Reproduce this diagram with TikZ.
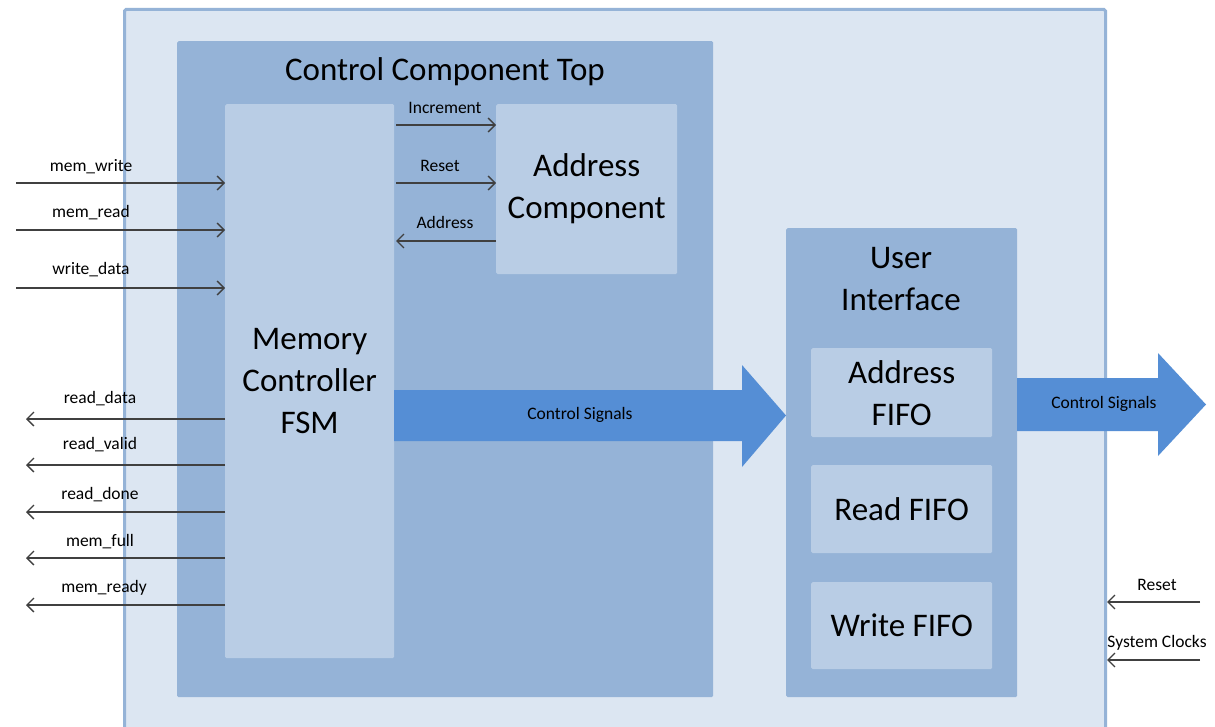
\documentclass[tikz,border=0pt]{standalone}
\usepackage{fontspec}
\setmainfont{Carlito}
\usetikzlibrary{arrows.meta}
\definecolor{outerfill}{HTML}{DCE6F2}
\definecolor{outerline}{HTML}{95B3D7}
\definecolor{midfill}{HTML}{95B3D7}
\definecolor{innerfill}{HTML}{B9CDE5}
\definecolor{bigarrow}{HTML}{558ED5}
\definecolor{wire}{HTML}{404040}
\tikzset{
  block/.style={anchor=north west, inner sep=0pt, draw=none, rounded corners=1.5pt},
  bigtxt/.style={font=\fontsize{33}{42}\selectfont, align=center, text=black},
  sig/.style={font=\fontsize{17.5}{20}\selectfont, text=black, inner sep=0pt},
  wirearrow/.style={draw=wire, line width=1.4pt, -{Straight Barb[length=7pt,width=14pt,line width=1.3pt]}},
  fatarrow/.style={fill=bigarrow, draw=none}
}
\begin{document}
\begin{tikzpicture}[x=1pt,y=-1pt]
\useasboundingbox (0,0) rectangle (1215,727);
\fill[white] (0,0) rectangle (1215,727);

% outer container, running off the bottom edge
\begin{scope}
\clip (0,0) rectangle (1215,727);
\node[block, fill=outerfill, draw=outerline, line width=3pt, minimum width=981pt, minimum height=740pt] (outer) at (123,8) {};
\end{scope}

% control component top
\node[block, fill=midfill, minimum width=536pt, minimum height=656pt] (cct) at (177,41) {};
\node[bigtxt, anchor=center] (ccttitle) at (445,72) {Control Component Top};

% memory controller FSM
\node[block, fill=innerfill, minimum width=169pt, minimum height=554pt] (mcf) at (225,104) {};
\node[bigtxt] (mcftxt) at (mcf.center) {Memory\\Controller\\FSM};

% address component
\node[block, fill=innerfill, minimum width=181pt, minimum height=170pt] (adc) at (496,104) {};
\node[bigtxt] (adctxt) at (adc.center) {Address\\Component};

% user interface
\node[block, fill=midfill, minimum width=231pt, minimum height=469pt] (ui) at (786,228) {};
\node[bigtxt] (uitxt) at (901,279) {User\\Interface};
\node[block, fill=innerfill, minimum width=181pt, minimum height=89pt] (afifo) at (811,348) {};
\node[bigtxt] (afifotxt) at (afifo.center) {Address\\FIFO};
\node[block, fill=innerfill, minimum width=181pt, minimum height=88pt] (rfifo) at (811,465) {};
\node[bigtxt] (rfifotxt) at (rfifo.center) {Read FIFO};
\node[block, fill=innerfill, minimum width=181pt, minimum height=87pt] (wfifo) at (811,582) {};
\node[bigtxt] (wfifotxt) at (wfifo.center) {Write FIFO};

% internal control signals arrow
\fill[fatarrow] (394,390) -- (742,390) -- (742,365) -- (786,415.5) -- (742,467) -- (742,441) -- (394,441) -- cycle;
\node[sig] (cs1) at (580,415) {Control Signals};

% outgoing control signals arrow
\fill[fatarrow] (1017,378) -- (1158,378) -- (1158,353) -- (1206,404.5) -- (1158,456) -- (1158,431) -- (1017,431) -- cycle;
\node[sig] (cs2) at (1104,404) {Control Signals};

% inputs to the FSM
\coordinate (iw) at (16,183);
\coordinate (ir) at (16,230);
\coordinate (id) at (16,288);
\draw[wirearrow] (iw) -- (iw -| mcf.west);
\draw[wirearrow] (ir) -- (ir -| mcf.west);
\draw[wirearrow] (id) -- (id -| mcf.west);
\node[sig] (lw) at (91,167) {mem\_write};
\node[sig] (lr) at (91,213) {mem\_read};
\node[sig] (ld) at (91,270) {write\_data};

% outputs from the FSM
\coordinate (o1) at (26,419);
\coordinate (o2) at (26,465);
\coordinate (o3) at (26,512);
\coordinate (o4) at (26,558);
\coordinate (o5) at (26,605);
\draw[wirearrow] (o1 -| mcf.west) -- (o1);
\draw[wirearrow] (o2 -| mcf.west) -- (o2);
\draw[wirearrow] (o3 -| mcf.west) -- (o3);
\draw[wirearrow] (o4 -| mcf.west) -- (o4);
\draw[wirearrow] (o5 -| mcf.west) -- (o5);
\node[sig] (l1) at (100,399) {read\_data};
\node[sig] (l2) at (100,445) {read\_valid};
\node[sig] (l3) at (100,495) {read\_done};
\node[sig] (l4) at (100,542) {mem\_full};
\node[sig] (l5) at (104,588) {mem\_ready};

% FSM <-> address component
\coordinate (a1) at (396,125);
\coordinate (a2) at (396,183);
\coordinate (a3) at (396,241);
\draw[wirearrow] (a1) -- (a1 -| adc.west);
\draw[wirearrow] (a2) -- (a2 -| adc.west);
\draw[wirearrow] (a3 -| adc.west) -- (a3);
\node[sig] (la1) at (445,108) {Increment};
\node[sig] (la2) at (440,166) {Reset};
\node[sig] (la3) at (445,222) {Address};

% external reset and clocks
\coordinate (r1) at (1200,602);
\coordinate (r2) at (1200,660);
\draw[wirearrow] (r1) -- (r1 -| outer.east);
\draw[wirearrow] (r2) -- (r2 -| outer.east);
\node[sig] (lr1) at (1157,585) {Reset};
\node[sig] (lr2) at (1157,643) {System Clocks};
\end{tikzpicture}
\end{document}
